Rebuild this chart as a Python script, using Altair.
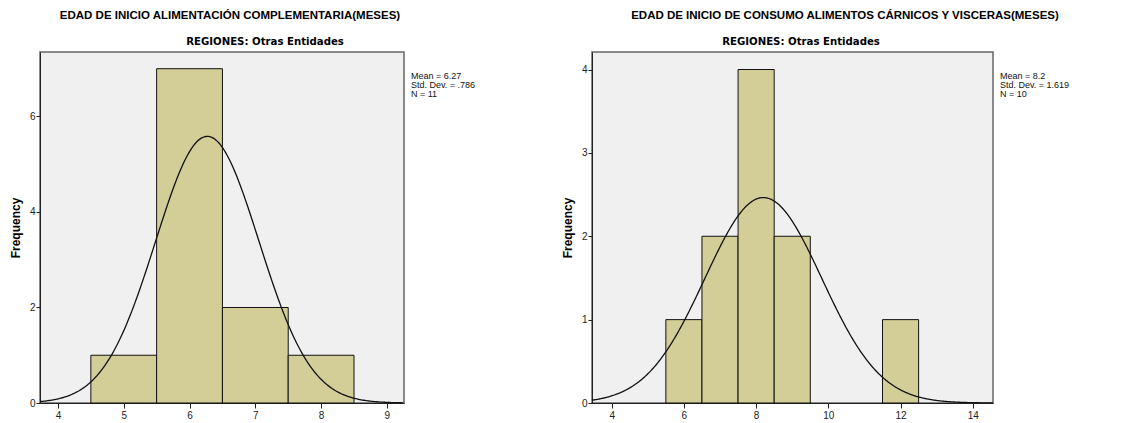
import altair as alt
import pandas as pd

# ---- data ----
left_bin_start = [4.5, 5.5, 6.5, 7.5]
left_bin_end = [5.5, 6.5, 7.5, 8.5]
left_count = [1, 7, 2, 1]
left_mean, left_sd, left_n = 6.27, 0.786, 11

right_bin_start = [5.5, 6.5, 7.5, 8.5, 11.5]
right_bin_end = [6.5, 7.5, 8.5, 9.5, 12.5]
right_count = [1, 2, 4, 2, 1]
right_mean, right_sd, right_n = 8.2, 1.619, 10

left_title = "EDAD DE INICIO ALIMENTACIÓN COMPLEMENTARIA(MESES)"
right_title = "EDAD DE INICIO DE CONSUMO ALIMENTOS CÁRNICOS Y VISCERAS(MESES)"
subtitle = "REGIONES: Otras Entidades"
left_stats = ["Mean = 6.27", "Std. Dev. = .786", "N = 11"]
right_stats = ["Mean = 8.2", "Std. Dev. = 1.619", "N = 10"]

left_xdomain = [3.727, 9.26]
right_xdomain = [3.455, 14.56]
left_ydomain = [0, 7.35]
right_ydomain = [0, 4.21]
left_xticks = [4, 5, 6, 7, 8, 9]
right_xticks = [4, 6, 8, 10, 12, 14]
left_yticks = [0, 2, 4, 6]
right_yticks = [0, 1, 2, 3, 4]

H = 351
BAR = "#D3CE97"
SUB_FONT = "DejaVu Sans Condensed, Liberation Sans, sans-serif"


def panel(bs, be, cnt, mean, sd, n, xdom, ydom, xticks, yticks, W,
          title, stats, title_x, sub_x):
    bars_df = pd.DataFrame({"start": bs, "end": be, "count": cnt})
    xs = alt.Scale(domain=xdom, nice=False, zero=False)
    ys = alt.Scale(domain=ydom, nice=False)
    xaxis = alt.Axis(values=xticks, title=None, grid=False, tickSize=5,
                     labelFontSize=10, labelColor="#222", domainColor="#222",
                     tickColor="#222", labelPadding=2, format="d")
    yaxis = alt.Axis(values=yticks, title="Frequency", grid=False, tickSize=4,
                     labelFontSize=10, labelColor="#222", domainColor="#222",
                     tickColor="#222", labelPadding=1, titleFontSize=12,
                     titleFont="Liberation Sans", titleFontWeight="bold",
                     titleColor="#000", titlePadding=7, format="d")
    bars = alt.Chart(bars_df).mark_rect(color=BAR, stroke="#111", strokeWidth=1).encode(
        x=alt.X("start:Q", scale=xs, axis=xaxis),
        x2="end:Q",
        y=alt.Y("count:Q", scale=ys, axis=yaxis),
        y2=alt.datum(0),
    )
    curve = (
        alt.Chart(alt.sequence(xdom[0], xdom[1] + 0.001, 0.02, as_="x"))
        .transform_calculate(
            y=f"{n} * densityNormal(datum.x, {mean}, {sd})"
        )
        .mark_line(color="#111", strokeWidth=1.3, clip=True)
        .encode(x=alt.X("x:Q", scale=xs), y=alt.Y("y:Q", scale=ys))
    )
    stats_df = pd.DataFrame({"t": stats, "i": [0, 1, 2]})
    stats_txt = (
        alt.Chart(stats_df)
        .transform_calculate(py="23.5 + datum.i * 9")
        .mark_text(align="left", baseline="middle", fontSize=9,
                   font="Liberation Sans", color="#111")
        .encode(x=alt.value(W + 7), y=alt.Y("py:Q", scale=None), text="t:N")
    )
    title_txt = alt.Chart(pd.DataFrame({"t": [title]})).mark_text(
        align="center", baseline="middle", fontSize=11.5, fontWeight="bold",
        font="Liberation Sans", color="#000"
    ).encode(x=alt.value(title_x), y=alt.value(-36), text="t:N")
    sub_txt = alt.Chart(pd.DataFrame({"t": [subtitle]})).mark_text(
        align="center", baseline="middle", fontSize=11.3, fontWeight="bold",
        font=SUB_FONT, color="#000"
    ).encode(x=alt.value(sub_x), y=alt.value(-10), text="t:N")
    return alt.layer(bars, curve, stats_txt, title_txt, sub_txt).properties(
        width=W, height=H
    )


left = panel(left_bin_start, left_bin_end, left_count, left_mean, left_sd, left_n,
             left_xdomain, left_ydomain, left_xticks, left_yticks, 364,
             left_title, left_stats, 190, 225)
right = panel(right_bin_start, right_bin_end, right_count, right_mean, right_sd,
              right_n, right_xdomain, right_ydomain, right_xticks, right_yticks, 401,
              right_title, right_stats, 253, 209)

chart = (
    alt.hconcat(left, right, spacing=188, bounds="flush")
    .properties(padding={"left": 0, "top": 1, "right": 0, "bottom": 0},
                background="white")
    .configure_view(fill="#F0F0F0", stroke="#666", strokeWidth=1.5)
    .configure_axis(labelFont="Liberation Sans")
)

chart.save("out.html", embed_options={"renderer": "svg", "actions": False})
